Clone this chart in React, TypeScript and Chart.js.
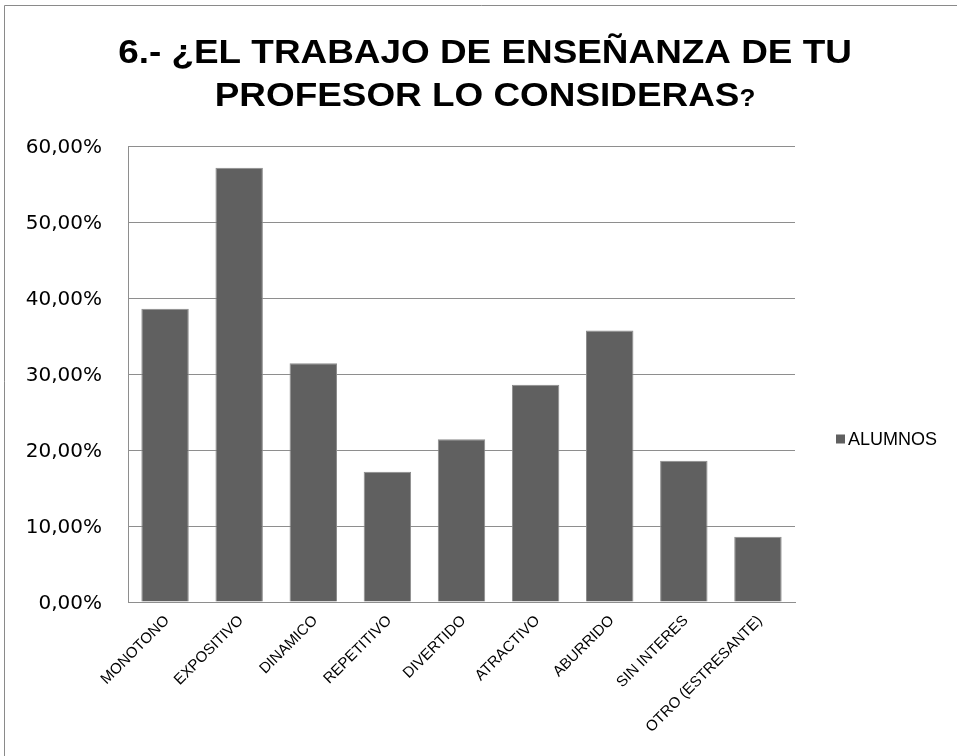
import React, { useEffect, useRef } from "react";
import { Chart, registerables } from "chart.js";

Chart.register(...registerables);

const categories = [
  "MONOTONO",
  "EXPOSITIVO",
  "DINAMICO",
  "REPETITIVO",
  "DIVERTIDO",
  "ATRACTIVO",
  "ABURRIDO",
  "SIN INTERES",
  "OTRO (ESTRESANTE)",
];
const alumnos = [38.57, 57.14, 31.43, 17.14, 21.43, 28.57, 35.71, 18.57, 8.57];
const yTicks = [0, 10, 20, 30, 40, 50, 60];
const seriesLabel = "ALUMNOS";
const titleLine1 = "6.- ¿EL TRABAJO DE ENSEÑANZA DE TU";
const titleLine2 = "PROFESOR LO CONSIDERAS";
const titleMark = "?";

const BAR = "#606060";
const GRID = "#8e8e8e";

const decorPlugin = {
  id: "decor",
  afterDraw(chart: any) {
    const ctx = chart.ctx as CanvasRenderingContext2D;
    ctx.save();
    // outer chart border (right/bottom edges fall outside the picture)
    ctx.strokeStyle = "#8a8a8a";
    ctx.lineWidth = 1;
    ctx.beginPath();
    ctx.moveTo(4.5, chart.height + 10);
    ctx.lineTo(4.5, 5.5);
    ctx.lineTo(chart.width + 10, 5.5);
    ctx.stroke();

    // title
    const cx = 485;
    const sx = 1.085;
    ctx.fillStyle = "#000";
    ctx.textBaseline = "alphabetic";
    ctx.font = "bold 34px 'Liberation Sans', Arial, sans-serif";
    const w1 = ctx.measureText(titleLine1).width;
    ctx.save();
    ctx.translate(cx, 63);
    ctx.scale(sx, 1);
    ctx.textAlign = "left";
    ctx.fillText(titleLine1, -w1 / 2, 0);
    ctx.restore();

    const w2a = ctx.measureText(titleLine2).width;
    ctx.font = "bold 24px 'Liberation Sans', Arial, sans-serif";
    const w2b = ctx.measureText(titleMark).width;
    const total = w2a + w2b;
    ctx.save();
    ctx.translate(cx, 106);
    ctx.scale(sx, 1);
    ctx.textAlign = "left";
    ctx.font = "bold 34px 'Liberation Sans', Arial, sans-serif";
    ctx.fillText(titleLine2, -total / 2, 0);
    ctx.font = "bold 24px 'Liberation Sans', Arial, sans-serif";
    ctx.fillText(titleMark, -total / 2 + w2a, 0);
    ctx.restore();

    // legend
    const ds = chart.data.datasets[0];
    ctx.fillStyle = ds.backgroundColor;
    ctx.fillRect(836, 434.5, 9, 9);
    ctx.fillStyle = "#000";
    ctx.font = "18px 'Liberation Sans', Arial, sans-serif";
    ctx.textAlign = "left";
    ctx.textBaseline = "middle";
    ctx.fillText(ds.label, 848, 440);
    ctx.restore();
  },
};

export default function App() {
  const ref = useRef<HTMLCanvasElement | null>(null);

  useEffect(() => {
    document.body.style.margin = "0";
    const canvas = ref.current;
    if (!canvas) return;
    const chart = new Chart(canvas, {
      type: "bar",
      data: {
        labels: categories,
        datasets: [
          {
            label: seriesLabel,
            data: alumnos,
            backgroundColor: BAR,
            borderColor: "#8c8c8c",
            borderWidth: 1,
            barPercentage: 0.64,
            categoryPercentage: 1,
          },
        ],
      },
      options: {
        responsive: false,
        animation: false,
        layout: { padding: { left: 0, top: 146, right: 162, bottom: 0 } },
        plugins: {
          legend: { display: false },
          title: { display: false },
          tooltip: { enabled: false },
        },
        scales: {
          x: {
            grid: { display: false, drawTicks: false },
            border: { display: true, color: GRID, width: 1 },
            ticks: {
              color: "#000",
              font: { family: "'Liberation Sans', Arial, sans-serif", size: 15 },
              minRotation: 45,
              maxRotation: 45,
              padding: 10,
              labelOffset: 2,
              autoSkip: false,
            },
            afterFit(scale: any) {
              scale.height = 154;
            },
          },
          y: {
            min: 0,
            max: 60,
            afterBuildTicks(scale: any) {
              scale.ticks = yTicks.map((v) => ({ value: v }));
            },
            grid: { color: GRID, lineWidth: 1, drawTicks: false },
            border: { display: true, color: GRID, width: 1 },
            ticks: {
              color: "#000",
              font: { family: "'DejaVu Sans', sans-serif", size: 20 },
              padding: 26,
              labelOffset: 2,
              callback: (v: any) => Number(v).toFixed(2).replace(".", ",") + "%",
            },
            afterFit(scale: any) {
              scale.width = 128;
            },
          },
        },
      },
      plugins: [decorPlugin],
    });
    return () => chart.destroy();
  }, []);

  return (
    <div style={{ width: 957, height: 756, background: "#fff" }}>
      <canvas ref={ref} width={957} height={756} style={{ display: "block" }} />
    </div>
  );
}
